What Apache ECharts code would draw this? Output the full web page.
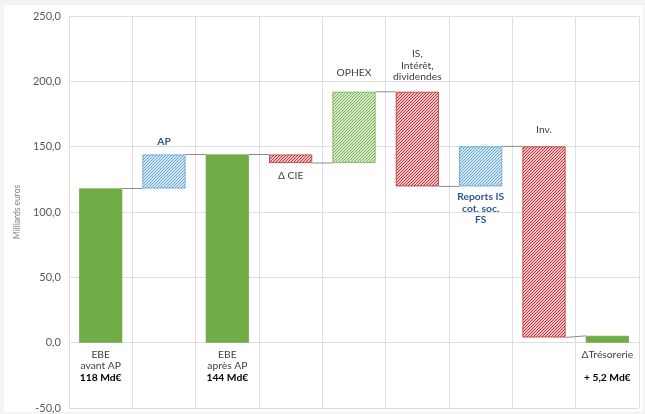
<!DOCTYPE html>
<html>
<head>
<meta charset="utf-8">
<script src="https://cdn.jsdelivr.net/npm/echarts@6/dist/echarts.min.js"></script>
<style>
  html, body { margin: 0; padding: 0; background: #f4f4f4; }
  #panel { position: absolute; left: 4px; top: 5px; width: 639px; height: 407px; background: #ffffff; }
  #chart { position: absolute; left: 0; top: 0; width: 645px; height: 414px; }
</style>
</head>
<body>
<div id="panel"></div>
<div id="chart"></div>
<script>
// Waterfall steps: each column runs from barLow to barHigh (Md€)
const categories = ['EBE avant AP', 'AP', 'EBE après AP', 'Δ CIE', 'OPHEX',
                    'IS, Intérêt, dividendes', 'Reports IS cot. soc. FS', 'Inv.', 'ΔTrésorerie'];
const barLow  = [0,   118, 0,   137.5, 137.5, 119.6, 119.6, 4.0,   0];
const barHigh = [118, 144, 144, 144,   192,   192,   150.2, 150.2, 5.2];
// Kind of each column: total (solid green), hatched green / red / blue
const barKind = ['total', 'blue', 'total', 'red', 'green', 'red', 'blue', 'red', 'total'];
// Level at which each column hands over to the next one
const linkFrom = [118, 144, 144, 137.5, 192, 119.6, 150.2, 4.0];
const linkTo   = [118, 144, 144, 137.5, 192, 119.6, 150.2, 5.2];
const yTicks = [-50, 0, 50, 100, 150, 200, 250];

const labelText = [
  { pos: 'bottom', gap: 6,  text: '{n|EBE}\n{n|avant AP}\n{b|118 Md€}' },
  { pos: 'top',    gap: 7,  text: '{blue|AP}' },
  { pos: 'bottom', gap: 6,  text: '{n|EBE}\n{n|après AP}\n{b|144 Md€}' },
  { pos: 'bottom', gap: 7,  text: '{n|Δ CIE}' },
  { pos: 'top',    gap: 13, text: '{n|OPHEX}' },
  { pos: 'top',    gap: 9,  text: '{n|IS,}\n{n|Intérêt,}\n{n|dividendes}' },
  { pos: 'bottom', gap: 5,  text: '{blue|Reports IS}\n{blue|cot. soc.}\n{blue|FS}' },
  { pos: 'top',    gap: 11, text: '{n|Inv.}' },
  { pos: 'bottom', gap: 6,  text: '{n|ΔTrésorerie}\n\n{b|+ 5,2 Md€}' }
];

function hatch(color) {
  const n = 3;
  const c = document.createElement('canvas');
  c.width = n; c.height = n;
  const ctx = c.getContext('2d');
  ctx.fillStyle = '#ffffff';
  ctx.fillRect(0, 0, n, n);
  ctx.strokeStyle = color;
  ctx.lineWidth = 1.05;
  ctx.beginPath();
  ctx.moveTo(-1, n + 1); ctx.lineTo(n + 1, -1);
  ctx.moveTo(-1, 1); ctx.lineTo(1, -1);
  ctx.moveTo(n - 1, n + 1); ctx.lineTo(n + 1, n - 1);
  ctx.stroke();
  return { image: c, repeat: 'repeat' };
}

const styles = {
  total: { color: '#70ad47', borderColor: '#5f9a3b', borderWidth: 0.6 },
  green: { color: hatch('#70ad47'), borderColor: '#70ad47', borderWidth: 0.8 },
  red:   { color: hatch('#c0282d'), borderColor: '#c0282d', borderWidth: 0.8 },
  blue:  { color: hatch('#5ea3cf'), borderColor: '#5ea3cf', borderWidth: 0.8 }
};

const font = 'Lato, "Open Sans", sans-serif';
const rich = {
  n:    { fontFamily: font, fontSize: 10.3, color: '#404040', lineHeight: 11.5 },
  b:    { fontFamily: font, fontSize: 10.3, color: '#000000', fontWeight: 'bold', lineHeight: 11.5 },
  blue: { fontFamily: font, fontSize: 10.3, color: '#2f5597', fontWeight: 'bold', lineHeight: 11.5 }
};

const baseData = categories.map((c, i) => barLow[i]);
const deltaData = categories.map((c, i) => ({
  value: barHigh[i] - barLow[i],
  itemStyle: styles[barKind[i]],
  label: {
    show: true,
    position: labelText[i].pos,
    distance: labelText[i].gap,
    formatter: labelText[i].text,
    rich: rich
  }
}));

const BAR_RATIO = 0.68;

const chart = echarts.init(document.getElementById('chart'), null, { renderer: 'canvas' });
chart.setOption({
  animation: false,
  backgroundColor: 'transparent',
  grid: { left: 69, right: 6, top: 16, bottom: 6, containLabel: false },
  xAxis: {
    type: 'category',
    data: categories,
    axisLine: { show: false },
    axisTick: { show: false },
    axisLabel: { show: false, interval: 0 },
    splitLine: { show: true, interval: 0, lineStyle: { color: '#dedede', width: 1 } }
  },
  yAxis: {
    type: 'value',
    min: yTicks[0],
    max: yTicks[yTicks.length - 1],
    interval: 50,
    name: 'Milliards euros',
    nameLocation: 'middle',
    nameGap: 46,
    nameTextStyle: { fontFamily: font, fontSize: 8.5, color: '#808080' },
    axisLine: { show: false },
    axisTick: { show: false },
    axisLabel: {
      fontFamily: font, fontSize: 11, color: '#595959', margin: 8,
      formatter: v => v.toFixed(1).replace('.', ',')
    },
    splitLine: { lineStyle: { color: '#dedede', width: 1 } }
  },
  series: [
    {
      type: 'bar', stack: 'w', data: baseData, barWidth: (BAR_RATIO * 100) + '%',
      itemStyle: { color: 'transparent' }, silent: true
    },
    {
      type: 'bar', stack: 'w', data: deltaData, barWidth: (BAR_RATIO * 100) + '%'
    },
    {
      // connector lines between neighbouring columns
      type: 'custom',
      data: linkFrom.map((v, i) => [i, v, linkTo[i]]),
      renderItem: function (params, api) {
        const i = api.value(0);
        const bw = api.size([1, 0])[0] * BAR_RATIO;
        const p1 = api.coord([i, api.value(1)]);
        const p2 = api.coord([i + 1, api.value(2)]);
        return {
          type: 'line',
          shape: { x1: p1[0] + bw / 2, y1: p1[1], x2: p2[0] - bw / 2, y2: p2[1] },
          style: { stroke: '#8c8c8c', lineWidth: 1 }
        };
      },
      z: 1
    }
  ]
});
</script>
</body>
</html>
